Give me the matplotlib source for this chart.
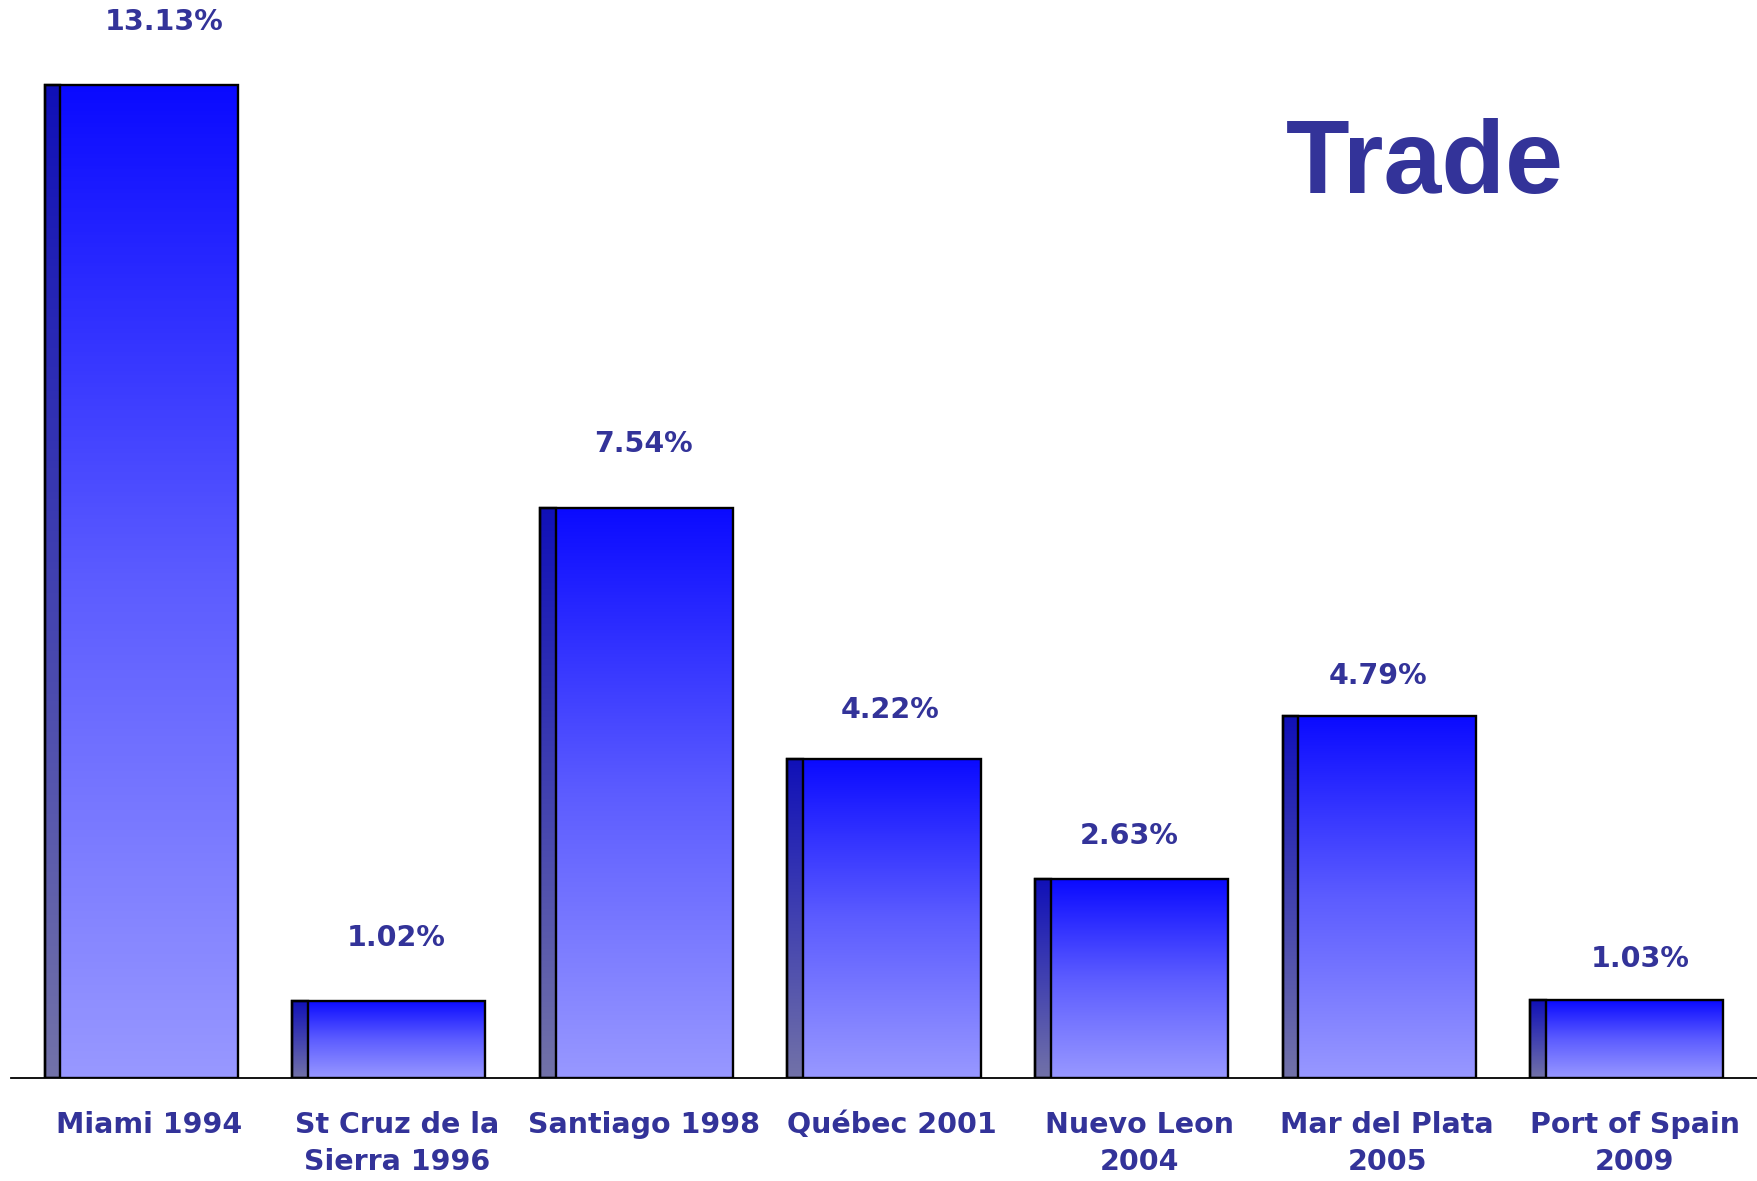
import numpy as np
import matplotlib
matplotlib.use("Agg")
import matplotlib.pyplot as plt
from matplotlib import font_manager
from matplotlib.colors import LinearSegmentedColormap

categories = ["Miami 1994", "St Cruz de la\nSierra 1996", "Santiago 1998", "Québec 2001",
              "Nuevo Leon\n2004", "Mar del Plata\n2005", "Port of Spain\n2009"]
values = [13.13, 1.02, 7.54, 4.22, 2.63, 4.79, 1.03]
value_labels = ["13.13%", "1.02%", "7.54%", "4.22%", "2.63%", "4.79%", "1.03%"]

# label nudges in pixels (dx, dy above bar top)
label_dx = [23, 7, 7, 6, -2, -1, 13]
label_dy = [63, 63, 64, 49, 43, 40, 41]

TEXT = "#333399"
main_cmap = LinearSegmentedColormap.from_list("main", ["#9898ff", "#5c5cff", "#0a0aff"])
side_cmap = LinearSegmentedColormap.from_list("side", ["#7272a8", "#1010b8"])

# pick the regular-width Liberation Sans Bold file (not Narrow)
title_font = None
for f in font_manager.fontManager.ttflist:
    fn = f.fname.lower()
    if "liberationsans-bold.ttf" in fn:
        title_font = font_manager.FontProperties(fname=f.fname, size=75)
        break
if title_font is None:
    title_font = font_manager.FontProperties(family="DejaVu Sans", weight="bold", size=66)

fig = plt.figure(figsize=(17.58, 11.81), dpi=100)
ax = fig.add_axes([0.0063, 1 - 1078 / 1181, 1 - 0.0063, 1078 / 1181])

width = 0.78
strip = 0.063
grad = np.linspace(0, 1, 256).reshape(-1, 1)
x = np.arange(len(values))

for i, v in zip(x, values):
    left = i - width / 2
    ax.imshow(grad, extent=[left + strip, left + width, 0, v], origin="lower",
              aspect="auto", cmap=main_cmap, zorder=2)
    ax.imshow(grad, extent=[left, left + strip, 0, v], origin="lower",
              aspect="auto", cmap=side_cmap, zorder=2)

ax.bar(x, values, width=width, fill=False, edgecolor="black", linewidth=1.7, zorder=3)
ax.bar(x - width / 2, values, width=strip, align="edge", fill=False,
       edgecolor="black", linewidth=1.7, zorder=3)

for i, v in enumerate(values):
    ax.annotate(value_labels[i], xy=(i, v), xytext=(label_dx[i], label_dy[i]),
                textcoords="offset pixels", ha="center", va="center",
                fontsize=20.5, fontweight="bold", color=TEXT, family="DejaVu Sans")
    ax.annotate(categories[i], xy=(i, 0), xytext=(8, -33), textcoords="offset pixels",
                ha="center", va="top", fontsize=20.5, fontweight="bold", color=TEXT,
                family="DejaVu Sans", linespacing=1.42, annotation_clip=False)

ax.set_xlim(-0.526, 6.53)
ax.set_ylim(0, 14.25)
for s in ["top", "right", "left"]:
    ax.spines[s].set_visible(False)
ax.spines["bottom"].set_linewidth(1.3)
ax.set_xticks([])
ax.set_yticks([])

fig.text(1425 / 1758, 1 - 193 / 1181, "Trade", ha="center", va="baseline",
         fontproperties=title_font, color=TEXT)

fig.savefig("out.png", dpi=100)
